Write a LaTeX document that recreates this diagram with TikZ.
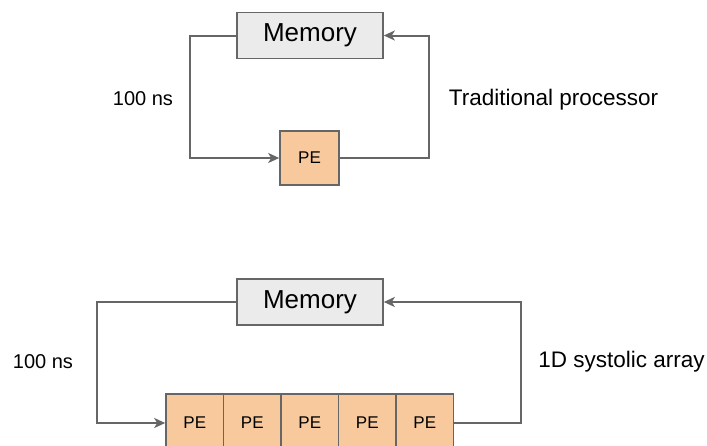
\documentclass[tikz,border=0pt]{standalone}
\usepackage{fontspec}
\setmainfont{Liberation Sans}
\usetikzlibrary{arrows.meta}
\definecolor{edgegray}{HTML}{666666}
\definecolor{memfill}{HTML}{EBEBEB}
\definecolor{pefill}{HTML}{F7C99C}
\tikzset{
  membox/.style={draw=edgegray, line width=1.6pt, fill=memfill, minimum width=146pt, minimum height=46pt, inner sep=0pt, font=\fontsize{26}{30}\selectfont},
  pebox/.style={draw=edgegray, line width=1.6pt, fill=pefill, inner sep=0pt, font=\fontsize{17}{20}\selectfont},
  conn/.style={draw=edgegray, line width=2pt, -{Stealth[length=11pt, width=10pt, inset=3pt]}},
  lbl/.style={font=\fontsize{20}{24}\selectfont, inner sep=0pt},
  biglbl/.style={font=\fontsize{22.5}{27}\selectfont, inner sep=0pt}
}
\begin{document}
\begin{tikzpicture}[x=1pt, y=-1pt]
  \clip (0,0) rectangle (707,445);
  \useasboundingbox (0,0) rectangle (707,445);

  % traditional processor: one PE fed from memory
  \node[membox] (mem1) at (310,35.5) {Memory};
  \node[pebox, minimum width=59pt, minimum height=54pt] (pe) at (309.5,158) {PE};
  \coordinate (l1) at (190,100);
  \coordinate (r1) at (429,100);
  \draw[conn] (mem1.west) -| (l1) |- (pe.west);
  \draw[conn] (pe.east) -| (r1) |- (mem1.east);
  \node[lbl] (t1) at (143,99) {100 ns};
  \node[biglbl] (t2) at (553.5,100) {Traditional processor};

  % 1D systolic array: a chain of five PEs
  \node[membox] (mem2) at (310,302) {Memory};
  \foreach \i in {1,...,5} {
    \node[pebox, minimum width=57.5pt, minimum height=58pt] (p\i) at ({166+57.5*(\i-0.5)},423) {PE};
  }
  \coordinate (l2) at (97,360);
  \coordinate (r2) at (521,360);
  \draw[conn] (mem2.west) -| (l2) |- (p1.west);
  \draw[conn] (p5.east) -| (r2) |- (mem2.east);
  \node[lbl] (t3) at (43,362) {100 ns};
  \node[biglbl] (t4) at (621.5,362) {1D systolic array};
\end{tikzpicture}
\end{document}
